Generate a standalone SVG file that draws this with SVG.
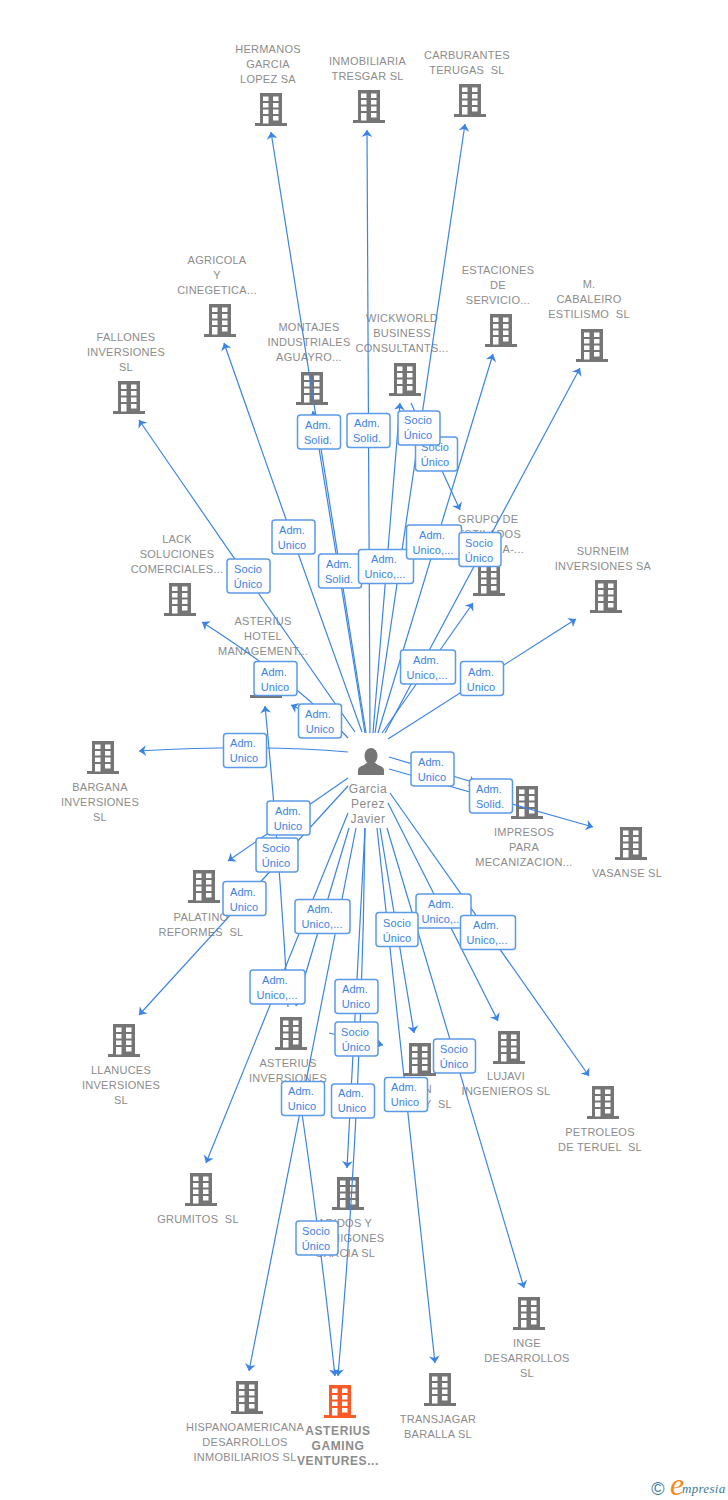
<svg xmlns="http://www.w3.org/2000/svg" width="728" height="1500" viewBox="0 0 728 1500">
<style>
text{font-family:"Liberation Sans",Arial,sans-serif;white-space:pre}
.l{font-size:11px;fill:#8c8c8c;text-anchor:middle;letter-spacing:.25px}
.b{font-weight:bold;letter-spacing:.6px;font-size:12px}
.p{font-size:12px;fill:#8c8c8c;text-anchor:middle;letter-spacing:.5px}
.c{fill:none;stroke:#3c84e4;stroke-width:1.2;marker-end:url(#a)}
.x rect{fill:url(#g);stroke:#5b9ae8;stroke-width:1.5}
.x text{font-size:11px;fill:#3c84e4;text-anchor:middle;letter-spacing:.1px}
</style>
<defs>
<linearGradient id="g" x1="0" y1="0" x2="0" y2="1"><stop offset="0" stop-color="#fff"/><stop offset="1" stop-color="#fbfbfb"/></linearGradient>
<marker id="a" markerUnits="userSpaceOnUse" markerWidth="14" markerHeight="14" refX="11" refY="6" orient="auto" viewBox="0 0 14 12"><path d="M11 6 L4 0.6 L6 6 L4 11.4 Z" fill="#3c84e4"/></marker>
<symbol id="h" width="32" height="33" viewBox="0 0 32 33" overflow="visible">
<rect x="5" y="0" width="22" height="31" fill="currentColor"/>
<rect x="0" y="30" width="32" height="3" fill="currentColor"/>
<g fill="#fff">
<rect x="8" y="3.5" width="5.5" height="4.5"/><rect x="18" y="3.5" width="5.5" height="4.5"/>
<rect x="8" y="10" width="5.5" height="4.5"/><rect x="18" y="10" width="5.5" height="4.5"/>
<rect x="8" y="16.5" width="5.5" height="4.5"/><rect x="18" y="16.5" width="5.5" height="4.5"/>
<rect x="8" y="23" width="5.5" height="7.5"/><rect x="18" y="23" width="5.5" height="4.5"/>
</g>
</symbol>
</defs>

<g id="nodes" color="#757575">
<g id="n1"><use href="#h" x="255" y="93"/><text class="l"><tspan x="268" y="53">HERMANOS</tspan><tspan x="268" y="68">GARCIA</tspan><tspan x="268" y="83">LOPEZ SA</tspan></text></g>
<g id="n2"><use href="#h" x="353" y="90"/><text class="l"><tspan x="367.500" y="65">INMOBILIARIA</tspan><tspan x="367.500" y="80">TRESGAR SL</tspan></text></g>
<g id="n3"><use href="#h" x="454" y="84"/><text class="l"><tspan x="467" y="59">CARBURANTES</tspan><tspan x="467" y="74">TERUGAS  SL</tspan></text></g>
<g id="n4"><use href="#h" x="204" y="304"/><text class="l"><tspan x="217" y="264">AGRICOLA</tspan><tspan x="217" y="279">Y</tspan><tspan x="217" y="294">CINEGETICA...</tspan></text></g>
<g id="n5"><use href="#h" x="113" y="381"/><text class="l"><tspan x="126" y="341">FALLONES</tspan><tspan x="126" y="356">INVERSIONES</tspan><tspan x="126" y="371">SL</tspan></text></g>
<g id="n6"><use href="#h" x="296" y="372"/><text class="l"><tspan x="309" y="331">MONTAJES</tspan><tspan x="309" y="346">INDUSTRIALES</tspan><tspan x="309" y="361">AGUAYRO...</tspan></text></g>
<g id="n7"><use href="#h" x="389" y="363"/><text class="l"><tspan x="402" y="322">WICKWORLD</tspan><tspan x="402" y="337">BUSINESS</tspan><tspan x="402" y="352">CONSULTANTS...</tspan></text></g>
<g id="n8"><use href="#h" x="485" y="314"/><text class="l"><tspan x="498" y="274">ESTACIONES</tspan><tspan x="498" y="289">DE</tspan><tspan x="498" y="304">SERVICIO...</tspan></text></g>
<g id="n9"><use href="#h" x="576" y="329"/><text class="l"><tspan x="589" y="288">M.</tspan><tspan x="589" y="303">CABALEIRO</tspan><tspan x="589" y="318">ESTILISMO  SL</tspan></text></g>
<g id="n10"><use href="#h" x="473" y="563"/><text class="l"><tspan x="488" y="523">GRUPO DE</tspan><tspan x="489" y="538">ESTILADOS</tspan></text><text class="l" x="524" y="553" style="text-anchor:end">A-...</text></g>
<g id="n11"><use href="#h" x="590" y="580"/><text class="l"><tspan x="603" y="555">SURNEIM</tspan><tspan x="603" y="570">INVERSIONES SA</tspan></text></g>
<g id="n12"><use href="#h" x="164" y="583"/><text class="l"><tspan x="177" y="543">LACK</tspan><tspan x="177" y="558">SOLUCIONES</tspan><tspan x="177" y="573">COMERCIALES...</tspan></text></g>
<g id="n13"><use href="#h" x="250" y="665"/><text class="l"><tspan x="263" y="625">ASTERIUS</tspan><tspan x="263" y="640">HOTEL</tspan><tspan x="263" y="655">MANAGEMENT...</tspan></text></g>
<g id="n14"><use href="#h" x="87" y="741"/><text class="l"><tspan x="100" y="791">BARGANA</tspan><tspan x="100" y="806">INVERSIONES</tspan><tspan x="100" y="821">SL</tspan></text></g>
<g id="n15"><use href="#h" x="511" y="786"/><text class="l"><tspan x="524" y="836">IMPRESOS</tspan><tspan x="524" y="851">PARA</tspan><tspan x="524" y="866">MECANIZACION...</tspan></text></g>
<g id="n16"><use href="#h" x="615" y="827"/><text class="l" x="627" y="877">VASANSE SL</text></g>
<g id="n17"><use href="#h" x="188" y="870"/><text class="l"><tspan x="201" y="921">PALATINO</tspan><tspan x="201" y="936">REFORMES  SL</tspan></text></g>
<g id="n18"><use href="#h" x="108" y="1024"/><text class="l"><tspan x="121" y="1074">LLANUCES</tspan><tspan x="121" y="1089">INVERSIONES</tspan><tspan x="121" y="1104">SL</tspan></text></g>
<g id="n19"><use href="#h" x="275" y="1017"/><text class="l"><tspan x="288" y="1067">ASTERIUS</tspan><tspan x="288" y="1082">INVERSIONES</tspan></text></g>
<g id="n20"><use href="#h" x="404" y="1043"/><text class="l" style="text-anchor:end"><tspan x="432" y="1093">N</tspan><tspan x="452" y="1108">Y  SL</tspan></text></g>
<g id="n21"><use href="#h" x="493" y="1031"/><text class="l"><tspan x="506" y="1080">LUJAVI</tspan><tspan x="506" y="1095">INGENIEROS SL</tspan></text></g>
<g id="n22"><use href="#h" x="587" y="1086"/><text class="l"><tspan x="600" y="1136">PETROLEOS</tspan><tspan x="600" y="1151">DE TERUEL  SL</tspan></text></g>
<g id="n23"><use href="#h" x="185" y="1173"/><text class="l" x="198" y="1223">GRUMITOS  SL</text></g>
<g id="n24"><use href="#h" x="332" y="1177"/><text class="l"><tspan x="345" y="1227">ARIDOS Y</tspan><tspan x="345" y="1242">HORMIGONES</tspan><tspan x="345" y="1257">GARCIA SL</tspan></text></g>
<g id="n25"><use href="#h" x="513" y="1297"/><text class="l"><tspan x="527" y="1347">INGE</tspan><tspan x="527" y="1362">DESARROLLOS</tspan><tspan x="527" y="1377">SL</tspan></text></g>
<g id="n26"><use href="#h" x="231" y="1381"/><text class="l"><tspan x="245" y="1431">HISPANOAMERICANA</tspan><tspan x="245" y="1446">DESARROLLOS</tspan><tspan x="245" y="1461">INMOBILIARIOS SL</tspan></text></g>
<g id="n27"><use href="#h" x="324" y="1385" color="#ff5a26"/><text class="l b"><tspan x="338" y="1435">ASTERIUS</tspan><tspan x="338" y="1450">GAMING</tspan><tspan x="338" y="1465">VENTURES...</tspan></text></g>
<g id="n28"><use href="#h" x="424" y="1373"/><text class="l"><tspan x="438" y="1423">TRANSJAGAR</tspan><tspan x="438" y="1438">BARALLA SL</tspan></text></g>
<g id="person"><ellipse cx="371" cy="756" rx="6.500" ry="8" fill="#757575"/><path d="M358 775 V770 Q358 767 364 765 L368 762 H374 L378 765 Q384 767 384 770 V775 Z" fill="#757575"/><text class="p"><tspan x="368" y="793">Garcia</tspan><tspan x="368" y="808">Perez</tspan><tspan x="368" y="823">Javier</tspan></text></g>
</g>

<g id="connectors">
<path class="c" d="M366 733 L271 132"/>
<path class="c" d="M370 733 L367 130"/>
<path class="c" d="M375 733 L465 124"/>
<path class="c" d="M362 732 Q300 560 224 343"/>
<path class="c" d="M355 732 Q280 625 139 420"/>
<path class="c" d="M365 733 L313 411"/>
<path class="c" d="M373 733 L400 403"/>
<path class="c" d="M378 733 L493 354"/>
<path class="c" d="M385 733 L580 368"/>
<path class="c" d="M411 403 L460 510"/>
<path class="c" d="M382 733 L473 603"/>
<path class="c" d="M388 739 L576 619"/>
<path class="c" d="M348 738 Q300 685 202 622"/>
<path class="c" d="M342 732 Q320 718 291 705"/>
<path class="c" d="M288 1007 Q280 860 265 706"/>
<path class="c" d="M348 752 Q260 744 139 751"/>
<path class="c" d="M389 757 L476 783"/>
<path class="c" d="M389 769 L593 827"/>
<path class="c" d="M348 778 L228 861"/>
<path class="c" d="M348 786 L139 1015"/>
<path class="c" d="M348 813 L206 1163"/>
<path class="c" d="M349 828 L296 1006"/>
<path class="c" d="M356 828 L249 1371"/>
<path class="c" d="M365 828 Q362 1100 338 1376"/>
<path class="c" d="M365 828 L347 1168"/>
<path class="c" d="M300 1100 Q318 1220 335 1376"/>
<path class="c" d="M329 1033 L383 1045"/>
<path class="c" d="M380 828 L414 1033"/>
<path class="c" d="M377 828 L435 1363"/>
<path class="c" d="M387 828 L524 1288"/>
<path class="c" d="M388 803 L498 1021"/>
<path class="c" d="M390 793 L589 1076"/>
</g>

<g id="labels" class="x">
<g><rect x="297.500" y="415" width="43" height="34" rx="3"/><text x="318" y="429">Adm.</text><text x="318" y="444">Solid.</text></g>
<g><rect x="347" y="413.500" width="43" height="34" rx="3"/><text x="367" y="427">Adm.</text><text x="367" y="442">Solid.</text></g>
<g><rect x="415.500" y="437" width="42" height="34" rx="3"/><text x="435" y="451">Socio</text><text x="435" y="466">Único</text></g>
<g><rect x="398" y="411" width="42" height="34" rx="3"/><text x="418" y="424">Socio</text><text x="418" y="439">Único</text></g>
<g><rect x="272" y="520" width="43" height="34" rx="3"/><text x="292" y="534">Adm.</text><text x="292" y="549">Unico</text></g>
<g><rect x="227" y="559" width="43" height="34" rx="3"/><text x="248" y="573">Socio</text><text x="248" y="588">Único</text></g>
<g><rect x="318.500" y="554" width="43" height="34" rx="3"/><text x="339" y="568">Adm.</text><text x="339" y="583">Solid.</text></g>
<g><rect x="358.500" y="549.500" width="55" height="34" rx="3"/><text x="384" y="563">Adm.</text><text x="385" y="578">Unico,...</text></g>
<g><rect x="406.500" y="525" width="55" height="34" rx="3"/><text x="432" y="539">Adm.</text><text x="433" y="554">Unico,...</text></g>
<g><rect x="459" y="532.500" width="42" height="34" rx="3"/><text x="479" y="547">Socio</text><text x="479" y="562">Único</text></g>
<g><rect x="400.500" y="650" width="55" height="34" rx="3"/><text x="426" y="664">Adm.</text><text x="427" y="679">Unico,...</text></g>
<g><rect x="460.500" y="661.500" width="43" height="34" rx="3"/><text x="481" y="676">Adm.</text><text x="481" y="691">Unico</text></g>
<g><rect x="254" y="661.500" width="43" height="34" rx="3"/><text x="274" y="676">Adm.</text><text x="275" y="691">Unico</text></g>
<g><rect x="298.500" y="704" width="43" height="34" rx="3"/><text x="318" y="718">Adm.</text><text x="320" y="733">Unico</text></g>
<g><rect x="223.500" y="733.500" width="43" height="34" rx="3"/><text x="243" y="747">Adm.</text><text x="244" y="762">Unico</text></g>
<g><rect x="411" y="752" width="43" height="34" rx="3"/><text x="431" y="766">Adm.</text><text x="432" y="781">Unico</text></g>
<g><rect x="469.500" y="779" width="43" height="34" rx="3"/><text x="489" y="793">Adm.</text><text x="490" y="808">Solid.</text></g>
<g><rect x="267" y="801" width="43" height="34" rx="3"/><text x="288" y="815">Adm.</text><text x="288" y="830">Unico</text></g>
<g><rect x="256" y="838" width="42" height="34" rx="3"/><text x="276" y="852">Socio</text><text x="276" y="867">Único</text></g>
<g><rect x="223" y="881.500" width="43" height="34" rx="3"/><text x="243" y="896">Adm.</text><text x="244" y="911">Unico</text></g>
<g><rect x="295" y="899.500" width="55" height="34" rx="3"/><text x="320" y="913">Adm.</text><text x="322" y="928">Unico,...</text></g>
<g><rect x="416" y="894" width="55" height="34" rx="3"/><text x="441" y="908">Adm.</text><text x="442" y="923">Unico,...</text></g>
<g><rect x="376" y="912.500" width="42" height="34" rx="3"/><text x="397" y="927">Socio</text><text x="397" y="942">Único</text></g>
<g><rect x="460.500" y="915.500" width="55" height="34" rx="3"/><text x="486" y="929">Adm.</text><text x="487" y="944">Unico,...</text></g>
<g><rect x="250" y="970" width="55" height="34" rx="3"/><text x="275" y="984">Adm.</text><text x="277" y="999">Unico,...</text></g>
<g><rect x="335" y="979.500" width="43" height="34" rx="3"/><text x="355" y="993">Adm.</text><text x="356" y="1008">Unico</text></g>
<g><rect x="335" y="1022" width="43" height="34" rx="3"/><text x="355" y="1036">Socio</text><text x="356" y="1051">Único</text></g>
<g><rect x="433.500" y="1039" width="42" height="34" rx="3"/><text x="454" y="1053">Socio</text><text x="454" y="1068">Único</text></g>
<g><rect x="281.500" y="1081.500" width="43" height="34" rx="3"/><text x="301" y="1095">Adm.</text><text x="302" y="1110">Unico</text></g>
<g><rect x="331.500" y="1084" width="43" height="34" rx="3"/><text x="351" y="1097">Adm.</text><text x="352" y="1112">Unico</text></g>
<g><rect x="384.500" y="1077.500" width="43" height="34" rx="3"/><text x="404" y="1091">Adm.</text><text x="405" y="1106">Unico</text></g>
<g><rect x="296" y="1221" width="42" height="34" rx="3"/><text x="316" y="1235">Socio</text><text x="316" y="1250">Único</text></g>
</g>

<g id="logo">
<text x="658" y="1495" font-size="18" fill="#3d7a94" text-anchor="middle" style="font-family:'Liberation Sans',sans-serif">©</text>
<text x="670" y="1495" font-size="32" fill="#f58a1f" font-style="italic" style="font-family:'Liberation Serif',serif">e</text>
<text x="682" y="1493" font-size="13" fill="#3d7a94" font-style="italic" style="font-family:'Liberation Serif',serif;letter-spacing:.3px">mpresia</text>
</g>
</svg>
